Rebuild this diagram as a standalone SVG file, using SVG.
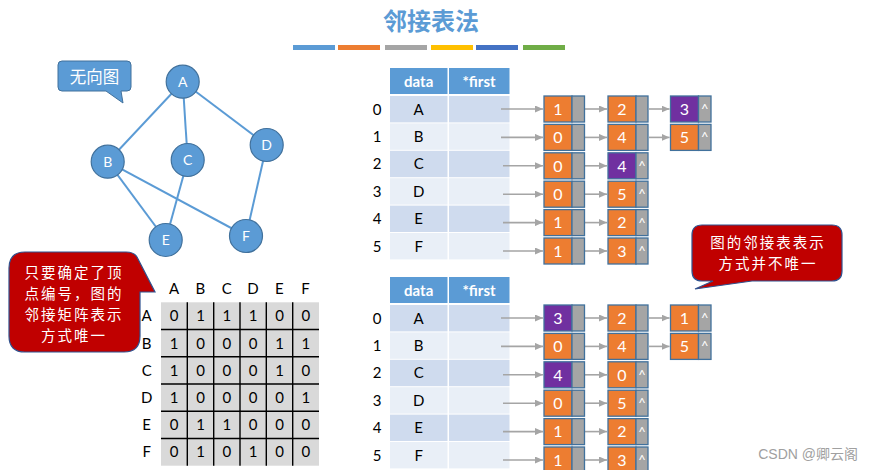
<svg xmlns="http://www.w3.org/2000/svg" width="873" height="470" viewBox="0 0 873 470">
<defs>
<style>
.cjk{font-family:"Noto Sans CJK SC","Noto Sans",sans-serif}
.gn circle{fill:#5B9BD5;stroke:#41719C;stroke-width:1.2}
.gn text{fill:#fff;font-size:14px;text-anchor:middle;font-family:Lato,"Liberation Sans",sans-serif}
.edge{stroke:#5B9BD5;stroke-width:2;fill:none}
.mx text{font-size:15px;text-anchor:middle;fill:#000;font-family:Lato,"Liberation Sans",sans-serif}
.hd{fill:#5B9BD5}
.hd-t{fill:#fff;font-size:15px;font-weight:bold;text-anchor:middle;font-family:Lato,"Liberation Sans",sans-serif}
.rd{fill:#CFDBEE}
.rl{fill:#E9EFF7}
.tt{font-size:15px;text-anchor:middle;fill:#000;font-family:Lato,"Liberation Sans",sans-serif}
.ln rect{stroke:#41719C;stroke-width:1.3}
.o{fill:#ED7D31}
.p{fill:#7030A0}
.g{fill:#A5A5A5}
.ln text{fill:#fff;font-size:16px;text-anchor:middle;font-family:Lato,"Liberation Sans",sans-serif}
.ln text.c{font-size:13px}
.arr{stroke:#A5A5A5;stroke-width:1.6;fill:none;marker-end:url(#ah)}
.wt{fill:#fff;font-size:16.5px;text-anchor:middle}
.wr{fill:#fff;font-size:14.5px;letter-spacing:2px;text-anchor:middle}
</style>
<marker id="ah" markerUnits="userSpaceOnUse" markerWidth="8" markerHeight="7" refX="8" refY="3.5" orient="auto">
<path d="M0,0 L8,3.5 L0,7 Z" fill="#A5A5A5"/>
</marker>
</defs>
<rect width="873" height="470" fill="#fff"/>

<!-- title -->
<g id="title">
<text x="431" y="30" class="cjk" font-size="24" font-weight="bold" fill="#5B9BD5" text-anchor="middle">邻接表法</text>
<rect x="293" y="45" width="42" height="5" fill="#5B9BD5"/>
<rect x="338" y="45" width="42" height="5" fill="#ED7D31"/>
<rect x="385" y="45" width="42" height="5" fill="#A5A5A5"/>
<rect x="431" y="45" width="42" height="5" fill="#FFC000"/>
<rect x="476" y="45" width="42" height="5" fill="#4472C4"/>
<rect x="523" y="45" width="42" height="5" fill="#70AD47"/>
</g>

<!-- graph edges -->
<g id="graph-edges">
<line class="edge" x1="182.7" y1="81.7" x2="107.7" y2="161.7"/>
<line class="edge" x1="182.7" y1="81.7" x2="187.7" y2="160"/>
<line class="edge" x1="182.7" y1="81.7" x2="266.7" y2="145"/>
<line class="edge" x1="107.7" y1="161.7" x2="165.7" y2="240"/>
<line class="edge" x1="107.7" y1="161.7" x2="246" y2="236"/>
<line class="edge" x1="187.7" y1="160" x2="165.7" y2="240"/>
<line class="edge" x1="266.7" y1="145" x2="246" y2="236"/>
</g>
<g id="vA" class="gn"><circle cx="182.7" cy="81.7" r="16.5"/><text x="182.7" y="86.7">A</text></g>
<g id="vB" class="gn"><circle cx="107.7" cy="161.7" r="16.5"/><text x="107.7" y="166.7">B</text></g>
<g id="vC" class="gn"><circle cx="187.7" cy="160" r="16.5"/><text x="187.7" y="165">C</text></g>
<g id="vD" class="gn"><circle cx="266.7" cy="145" r="16.5"/><text x="266.7" y="150">D</text></g>
<g id="vE" class="gn"><circle cx="165.7" cy="240" r="16.5"/><text x="165.7" y="245">E</text></g>
<g id="vF" class="gn"><circle cx="246" cy="236" r="16.5"/><text x="246" y="241">F</text></g>

<!-- callout 无向图 -->
<g id="callout-undirected">
<path d="M62,61 H127 Q131,61 131,65 V87 Q131,91 127,91 H121 L123,103 L106,91 H62 Q58,91 58,87 V65 Q58,61 62,61 Z" fill="#5B9BD5" stroke="#41719C" stroke-width="1"/>
<text x="94.5" y="82.5" class="cjk wt">无向图</text>
</g>

<!-- red callout left -->
<g id="callout-matrix">
<path d="M25,252 H126 Q134,252 137,257 L155,292 L140,292 V336 Q140,352 124,352 H25 Q9,352 9,336 V268 Q9,252 25,252 Z" fill="#C00000" stroke="#2F528F" stroke-width="1.2"/>
<text class="cjk wr"><tspan x="74" y="278">只要确定了顶</tspan><tspan x="74" y="299">点编号，图的</tspan><tspan x="74" y="320">邻接矩阵表示</tspan><tspan x="74" y="341">方式唯一</tspan></text>
</g>

<!-- adjacency matrix -->
<g id="matrix" class="mx">
<rect x="161" y="302.3" width="158" height="163.4" fill="#D9D9D9"/>
<g stroke="#000" stroke-width="1.4">
<line x1="187.3" y1="302.3" x2="187.3" y2="465.7"/>
<line x1="213.7" y1="302.3" x2="213.7" y2="465.7"/>
<line x1="240" y1="302.3" x2="240" y2="465.7"/>
<line x1="266.3" y1="302.3" x2="266.3" y2="465.7"/>
<line x1="292.7" y1="302.3" x2="292.7" y2="465.7"/>
<line x1="161" y1="329.5" x2="319" y2="329.5"/>
<line x1="161" y1="356.8" x2="319" y2="356.8"/>
<line x1="161" y1="384" x2="319" y2="384"/>
<line x1="161" y1="411.2" x2="319" y2="411.2"/>
<line x1="161" y1="438.5" x2="319" y2="438.5"/>
</g>
<text x="174" y="293.5">A</text><text x="200.3" y="293.5">B</text><text x="226.7" y="293.5">C</text><text x="253" y="293.5">D</text><text x="279.3" y="293.5">E</text><text x="305.5" y="293.5">F</text>
<text x="146.7" y="321.2">A</text><text x="146.7" y="348.5">B</text><text x="146.7" y="375.7">C</text><text x="146.7" y="402.9">D</text><text x="146.7" y="430.1">E</text><text x="146.7" y="457.4">F</text>
<text x="174.2" y="321.2">0</text><text x="200.5" y="321.2">1</text><text x="226.8" y="321.2">1</text><text x="253.2" y="321.2">1</text><text x="279.5" y="321.2">0</text><text x="305.8" y="321.2">0</text>
<text x="174.2" y="348.5">1</text><text x="200.5" y="348.5">0</text><text x="226.8" y="348.5">0</text><text x="253.2" y="348.5">0</text><text x="279.5" y="348.5">1</text><text x="305.8" y="348.5">1</text>
<text x="174.2" y="375.7">1</text><text x="200.5" y="375.7">0</text><text x="226.8" y="375.7">0</text><text x="253.2" y="375.7">0</text><text x="279.5" y="375.7">1</text><text x="305.8" y="375.7">0</text>
<text x="174.2" y="402.9">1</text><text x="200.5" y="402.9">0</text><text x="226.8" y="402.9">0</text><text x="253.2" y="402.9">0</text><text x="279.5" y="402.9">0</text><text x="305.8" y="402.9">1</text>
<text x="174.2" y="430.1">0</text><text x="200.5" y="430.1">1</text><text x="226.8" y="430.1">1</text><text x="253.2" y="430.1">0</text><text x="279.5" y="430.1">0</text><text x="305.8" y="430.1">0</text>
<text x="174.2" y="457.4">0</text><text x="200.5" y="457.4">1</text><text x="226.8" y="457.4">0</text><text x="253.2" y="457.4">1</text><text x="279.5" y="457.4">0</text><text x="305.8" y="457.4">0</text>
</g>

<!-- top vertex table -->
<g id="table1">
<rect class="hd" x="390" y="68" width="57.5" height="26"/>
<rect class="hd" x="449" y="68" width="60.5" height="26"/>
<text class="hd-t" x="418.7" y="86.5">data</text>
<text class="hd-t" x="479" y="86.5">*first</text>
<rect class="rd" x="390" y="96" width="57.5" height="26.4"/><rect class="rd" x="449" y="96" width="60.5" height="26.4"/>
<rect class="rl" x="390" y="123.4" width="57.5" height="26.4"/><rect class="rl" x="449" y="123.4" width="60.5" height="26.4"/>
<rect class="rd" x="390" y="150.8" width="57.5" height="26.4"/><rect class="rd" x="449" y="150.8" width="60.5" height="26.4"/>
<rect class="rl" x="390" y="178.2" width="57.5" height="26.4"/><rect class="rl" x="449" y="178.2" width="60.5" height="26.4"/>
<rect class="rd" x="390" y="205.6" width="57.5" height="26.4"/><rect class="rd" x="449" y="205.6" width="60.5" height="26.4"/>
<rect class="rl" x="390" y="233" width="57.5" height="26.4"/><rect class="rl" x="449" y="233" width="60.5" height="26.4"/>
<text class="tt" x="418.7" y="114.5">A</text><text class="tt" x="418.7" y="141.9">B</text><text class="tt" x="418.7" y="169.3">C</text><text class="tt" x="418.7" y="196.7">D</text><text class="tt" x="418.7" y="224.1">E</text><text class="tt" x="418.7" y="251.5">F</text>
<text class="tt" x="377" y="114.5">0</text><text class="tt" x="377" y="141.9">1</text><text class="tt" x="377" y="169.3">2</text><text class="tt" x="377" y="196.7">3</text><text class="tt" x="377" y="224.1">4</text><text class="tt" x="377" y="251.5">5</text>
</g>

<!-- bottom vertex table -->
<g id="table2">
<rect class="hd" x="390" y="277" width="57.5" height="26"/>
<rect class="hd" x="449" y="277" width="60.5" height="26"/>
<text class="hd-t" x="418.7" y="295.5">data</text>
<text class="hd-t" x="479" y="295.5">*first</text>
<rect class="rd" x="390" y="305" width="57.5" height="26.4"/><rect class="rd" x="449" y="305" width="60.5" height="26.4"/>
<rect class="rl" x="390" y="332.4" width="57.5" height="26.4"/><rect class="rl" x="449" y="332.4" width="60.5" height="26.4"/>
<rect class="rd" x="390" y="359.8" width="57.5" height="26.4"/><rect class="rd" x="449" y="359.8" width="60.5" height="26.4"/>
<rect class="rl" x="390" y="387.2" width="57.5" height="26.4"/><rect class="rl" x="449" y="387.2" width="60.5" height="26.4"/>
<rect class="rd" x="390" y="414.6" width="57.5" height="26.4"/><rect class="rd" x="449" y="414.6" width="60.5" height="26.4"/>
<rect class="rl" x="390" y="442" width="57.5" height="26.4"/><rect class="rl" x="449" y="442" width="60.5" height="26.4"/>
<text class="tt" x="418.7" y="323.5">A</text><text class="tt" x="418.7" y="350.9">B</text><text class="tt" x="418.7" y="378.3">C</text><text class="tt" x="418.7" y="405.7">D</text><text class="tt" x="418.7" y="433.1">E</text><text class="tt" x="418.7" y="460.5">F</text>
<text class="tt" x="377" y="323.5">0</text><text class="tt" x="377" y="350.9">1</text><text class="tt" x="377" y="378.3">2</text><text class="tt" x="377" y="405.7">3</text><text class="tt" x="377" y="433.1">4</text><text class="tt" x="377" y="460.5">5</text>
</g>

<!-- connectors -->
<g id="connectors">
<line class="arr" x1="501" y1="109" x2="543" y2="109"/>
<line class="arr" x1="501" y1="137.4" x2="543" y2="137.4"/>
<line class="arr" x1="503" y1="165.8" x2="543" y2="165.8"/>
<line class="arr" x1="503" y1="194.2" x2="543" y2="194.2"/>
<line class="arr" x1="503" y1="222.6" x2="543" y2="222.6"/>
<line class="arr" x1="503" y1="251" x2="543" y2="251"/>
<line class="arr" x1="585" y1="109" x2="607" y2="109"/>
<line class="arr" x1="585" y1="137.4" x2="607" y2="137.4"/>
<line class="arr" x1="585" y1="165.8" x2="607" y2="165.8"/>
<line class="arr" x1="585" y1="194.2" x2="607" y2="194.2"/>
<line class="arr" x1="585" y1="222.6" x2="607" y2="222.6"/>
<line class="arr" x1="585" y1="251" x2="607" y2="251"/>
<line class="arr" x1="649" y1="109" x2="669.5" y2="109"/>
<line class="arr" x1="649" y1="137.4" x2="669.5" y2="137.4"/>

<line class="arr" x1="501" y1="318" x2="543" y2="318"/>
<line class="arr" x1="501" y1="346.4" x2="543" y2="346.4"/>
<line class="arr" x1="503" y1="374.8" x2="543" y2="374.8"/>
<line class="arr" x1="503" y1="403.2" x2="543" y2="403.2"/>
<line class="arr" x1="503" y1="431.6" x2="543" y2="431.6"/>
<line class="arr" x1="503" y1="460" x2="543" y2="460"/>
<line class="arr" x1="585" y1="318" x2="607" y2="318"/>
<line class="arr" x1="585" y1="346.4" x2="607" y2="346.4"/>
<line class="arr" x1="585" y1="374.8" x2="607" y2="374.8"/>
<line class="arr" x1="585" y1="403.2" x2="607" y2="403.2"/>
<line class="arr" x1="585" y1="431.6" x2="607" y2="431.6"/>
<line class="arr" x1="585" y1="460" x2="607" y2="460"/>
<line class="arr" x1="649" y1="318" x2="669.5" y2="318"/>
<line class="arr" x1="649" y1="346.4" x2="669.5" y2="346.4"/>
</g>

<!-- top list nodes -->
<g id="t0a" class="ln"><rect class="o" x="544" y="96" width="28" height="26"/><rect class="g" x="572" y="96" width="12.5" height="26"/><text x="558" y="114.7">1</text></g>
<g id="t0b" class="ln"><rect class="o" x="608" y="96" width="28" height="26"/><rect class="g" x="636" y="96" width="12" height="26"/><text x="622" y="114.7">2</text></g>
<g id="t0c" class="ln"><rect class="p" x="670.5" y="96" width="28" height="26"/><rect class="g" x="698.5" y="96" width="12.5" height="26"/><text x="684.5" y="114.7">3</text><text class="c" x="704.7" y="114">^</text></g>
<g id="t1a" class="ln"><rect class="o" x="544" y="124.4" width="28" height="26"/><rect class="g" x="572" y="124.4" width="12.5" height="26"/><text x="558" y="143.1">0</text></g>
<g id="t1b" class="ln"><rect class="o" x="608" y="124.4" width="28" height="26"/><rect class="g" x="636" y="124.4" width="12" height="26"/><text x="622" y="143.1">4</text></g>
<g id="t1c" class="ln"><rect class="o" x="670.5" y="124.4" width="28" height="26"/><rect class="g" x="698.5" y="124.4" width="12.5" height="26"/><text x="684.5" y="143.1">5</text><text class="c" x="704.7" y="142.4">^</text></g>
<g id="t2a" class="ln"><rect class="o" x="544" y="152.8" width="28" height="26"/><rect class="g" x="572" y="152.8" width="12.5" height="26"/><text x="558" y="171.5">0</text></g>
<g id="t2b" class="ln"><rect class="p" x="608" y="152.8" width="28" height="26"/><rect class="g" x="636" y="152.8" width="12" height="26"/><text x="622" y="171.5">4</text><text class="c" x="642" y="170.8">^</text></g>
<g id="t3a" class="ln"><rect class="o" x="544" y="181.2" width="28" height="26"/><rect class="g" x="572" y="181.2" width="12.5" height="26"/><text x="558" y="199.9">0</text></g>
<g id="t3b" class="ln"><rect class="o" x="608" y="181.2" width="28" height="26"/><rect class="g" x="636" y="181.2" width="12" height="26"/><text x="622" y="199.9">5</text><text class="c" x="642" y="199.2">^</text></g>
<g id="t4a" class="ln"><rect class="o" x="544" y="209.6" width="28" height="26"/><rect class="g" x="572" y="209.6" width="12.5" height="26"/><text x="558" y="228.3">1</text></g>
<g id="t4b" class="ln"><rect class="o" x="608" y="209.6" width="28" height="26"/><rect class="g" x="636" y="209.6" width="12" height="26"/><text x="622" y="228.3">2</text><text class="c" x="642" y="227.6">^</text></g>
<g id="t5a" class="ln"><rect class="o" x="544" y="238" width="28" height="26"/><rect class="g" x="572" y="238" width="12.5" height="26"/><text x="558" y="256.7">1</text></g>
<g id="t5b" class="ln"><rect class="o" x="608" y="238" width="28" height="26"/><rect class="g" x="636" y="238" width="12" height="26"/><text x="622" y="256.7">3</text><text class="c" x="642" y="256">^</text></g>

<!-- bottom list nodes -->
<g id="b0a" class="ln"><rect class="p" x="544" y="305" width="28" height="26"/><rect class="g" x="572" y="305" width="12.5" height="26"/><text x="558" y="323.7">3</text></g>
<g id="b0b" class="ln"><rect class="o" x="608" y="305" width="28" height="26"/><rect class="g" x="636" y="305" width="12" height="26"/><text x="622" y="323.7">2</text></g>
<g id="b0c" class="ln"><rect class="o" x="670.5" y="305" width="28" height="26"/><rect class="g" x="698.5" y="305" width="12.5" height="26"/><text x="684.5" y="323.7">1</text><text class="c" x="704.7" y="323">^</text></g>
<g id="b1a" class="ln"><rect class="o" x="544" y="333.4" width="28" height="26"/><rect class="g" x="572" y="333.4" width="12.5" height="26"/><text x="558" y="352.1">0</text></g>
<g id="b1b" class="ln"><rect class="o" x="608" y="333.4" width="28" height="26"/><rect class="g" x="636" y="333.4" width="12" height="26"/><text x="622" y="352.1">4</text></g>
<g id="b1c" class="ln"><rect class="o" x="670.5" y="333.4" width="28" height="26"/><rect class="g" x="698.5" y="333.4" width="12.5" height="26"/><text x="684.5" y="352.1">5</text><text class="c" x="704.7" y="351.4">^</text></g>
<g id="b2a" class="ln"><rect class="p" x="544" y="361.8" width="28" height="26"/><rect class="g" x="572" y="361.8" width="12.5" height="26"/><text x="558" y="380.5">4</text></g>
<g id="b2b" class="ln"><rect class="o" x="608" y="361.8" width="28" height="26"/><rect class="g" x="636" y="361.8" width="12" height="26"/><text x="622" y="380.5">0</text><text class="c" x="642" y="379.8">^</text></g>
<g id="b3a" class="ln"><rect class="o" x="544" y="390.2" width="28" height="26"/><rect class="g" x="572" y="390.2" width="12.5" height="26"/><text x="558" y="408.9">0</text></g>
<g id="b3b" class="ln"><rect class="o" x="608" y="390.2" width="28" height="26"/><rect class="g" x="636" y="390.2" width="12" height="26"/><text x="622" y="408.9">5</text><text class="c" x="642" y="408.2">^</text></g>
<g id="b4a" class="ln"><rect class="o" x="544" y="418.6" width="28" height="26"/><rect class="g" x="572" y="418.6" width="12.5" height="26"/><text x="558" y="437.3">1</text></g>
<g id="b4b" class="ln"><rect class="o" x="608" y="418.6" width="28" height="26"/><rect class="g" x="636" y="418.6" width="12" height="26"/><text x="622" y="437.3">2</text><text class="c" x="642" y="436.6">^</text></g>
<g id="b5a" class="ln"><rect class="o" x="544" y="447" width="28" height="26"/><rect class="g" x="572" y="447" width="12.5" height="26"/><text x="558" y="465.7">1</text></g>
<g id="b5b" class="ln"><rect class="o" x="608" y="447" width="28" height="26"/><rect class="g" x="636" y="447" width="12" height="26"/><text x="622" y="465.7">3</text><text class="c" x="642" y="465">^</text></g>

<!-- red callout right -->
<g id="callout-list">
<path d="M702,225 H832 Q842,225 842,235 V271 Q842,281 832,281 H752 L695,289 L713,281 H702 Q692,281 692,271 V235 Q692,225 702,225 Z" fill="#C00000" stroke="#2F528F" stroke-width="1.2"/>
<text class="cjk wr"><tspan x="768" y="247.5">图的邻接表表示</tspan><tspan x="768" y="268.5">方式并不唯一</tspan></text>
</g>

<!-- watermark -->
<text x="858" y="459" font-family="'Liberation Sans','Noto Sans CJK SC',sans-serif" font-size="14" fill="#A0A0A0" text-anchor="end">CSDN @卿云阁</text>
</svg>
